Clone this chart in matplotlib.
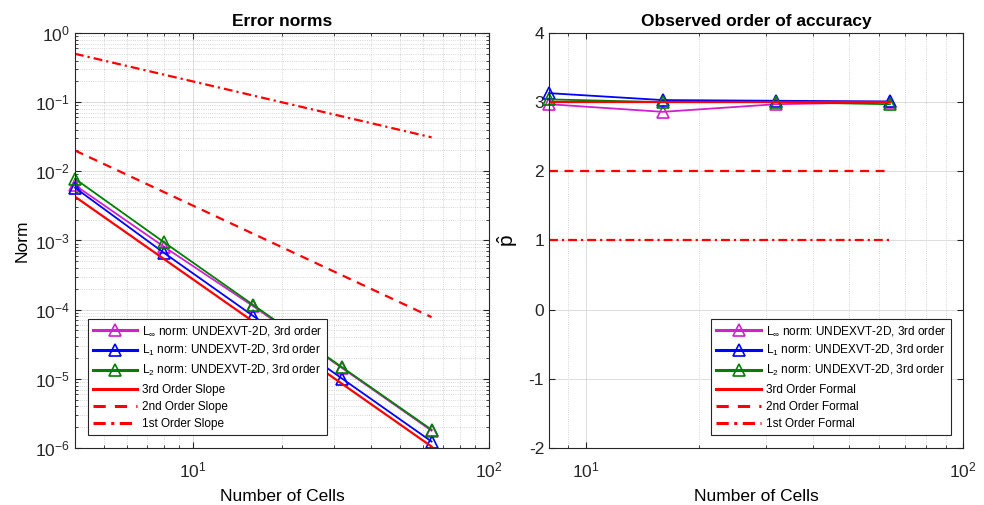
import numpy as np
import matplotlib
matplotlib.use("Agg")
import matplotlib.pyplot as plt
from matplotlib.ticker import NullFormatter, NullLocator

plt.rcParams["font.family"] = ["Liberation Sans", "DejaVu Sans"]
plt.rcParams["mathtext.fontset"] = "custom"
plt.rcParams["mathtext.rm"] = "Liberation Sans"
plt.rcParams["mathtext.it"] = "Liberation Sans:italic"
plt.rcParams["mathtext.bf"] = "Liberation Sans:bold"
plt.rcParams["mathtext.default"] = "regular"
plt.rcParams["axes.unicode_minus"] = False

# grid sizes and error norms (UNDEXVT-2D, 3rd order scheme)
cells = [4, 8, 16, 32, 64]
err_linf = [6.3e-3, 8.1e-4, 1.12e-4, 1.42e-5, 1.78e-6]
err_l1 = [5.8e-3, 6.6e-4, 8.1e-5, 1.0e-5, 1.24e-6]
err_l2 = [7.8e-3, 9.4e-4, 1.17e-4, 1.46e-5, 1.84e-6]

# reference slope lines (end points)
slope_x = [4, 64]
slope3 = [4.3e-3, 1.05e-6]
slope2 = [2.0e-2, 7.8e-5]
slope1 = [5.0e-1, 3.1e-2]

# observed order of accuracy between successive grids
order_cells = [8, 16, 32, 64]
p_linf = [2.97, 2.86, 2.97, 3.00]
p_l1 = [3.13, 3.03, 3.02, 3.01]
p_l2 = [3.04, 3.00, 3.00, 2.97]
formal_x = [8, 64]
formal3 = [3, 3]
formal2 = [2, 2]
formal1 = [1, 1]

MAG = "#d020d0"
BLU = "#0000ff"
GRN = "#008000"
RED = "#ff0000"
DASH = (0, (4, 3))
DASHDOT = (0, (4, 1.8, 1, 1.8))

norm_labels = [r"L$_{\infty}$ norm: UNDEXVT-2D, 3rd order",
               r"L$_{1}$ norm: UNDEXVT-2D, 3rd order",
               r"L$_{2}$ norm: UNDEXVT-2D, 3rd order"]

fig = plt.figure(figsize=(9.84, 5.05), dpi=100)
ax1 = fig.add_axes([0.0762, 0.1129, 0.4207, 0.8218])
ax2 = fig.add_axes([0.558, 0.1129, 0.4207, 0.8218])

mk = dict(marker="^", markersize=8, markerfacecolor="none", markeredgewidth=1.2,
          lw=1.3, clip_on=False)

# Error norms
ax1.loglog(cells, err_linf, color=MAG, markeredgecolor=MAG, label=norm_labels[0], **mk)
ax1.loglog(cells, err_l1, color=BLU, markeredgecolor=BLU, label=norm_labels[1], **mk)
ax1.loglog(cells, err_l2, color=GRN, markeredgecolor=GRN, label=norm_labels[2], **mk)
ax1.loglog(slope_x, slope3, color=RED, lw=1.6, label="3rd Order Slope")
ax1.loglog(slope_x, slope2, color=RED, lw=1.6, ls=DASH, label="2nd Order Slope")
ax1.loglog(slope_x, slope1, color=RED, lw=1.6, ls=DASHDOT, label="1st Order Slope")
ax1.set_xlim(4, 100)
ax1.set_ylim(1e-6, 1e0)
ax1.set_title("Error norms", fontsize=12.5, fontweight="bold", pad=5)
ax1.set_ylabel("Norm", fontsize=12.5)
ax1.set_xlabel("Number of Cells", fontsize=12.5, labelpad=6)

# Observed order
ax2.semilogx(order_cells, p_linf, color=MAG, markeredgecolor=MAG, label=norm_labels[0], **mk)
ax2.semilogx(order_cells, p_l1, color=BLU, markeredgecolor=BLU, label=norm_labels[1], **mk)
ax2.semilogx(order_cells, p_l2, color=GRN, markeredgecolor=GRN, label=norm_labels[2], **mk)
ax2.semilogx(formal_x, formal3, color=RED, lw=1.6, label="3rd Order Formal")
ax2.semilogx(formal_x, formal2, color=RED, lw=1.6, ls=DASH, label="2nd Order Formal")
ax2.semilogx(formal_x, formal1, color=RED, lw=1.6, ls=DASHDOT, label="1st Order Formal")
ax2.set_xlim(8, 100)
ax2.set_ylim(-2, 4)
ax2.set_yticks(range(-2, 5))
ax2.set_title("Observed order of accuracy", fontsize=12.5, fontweight="bold", pad=5)
ax2.set_ylabel(r"$\hat{p}$", fontsize=15, math_fontfamily="cm", labelpad=6)
ax2.set_xlabel("Number of Cells", fontsize=12.5, labelpad=6)

for ax in (ax1, ax2):
    ax.set_facecolor("white")
    for sp in ax.spines.values():
        sp.set_color("#262626")
        sp.set_linewidth(0.8)
    ax.tick_params(which="both", direction="in", top=True, right=True,
                   colors="#262626", labelsize=12.5, labelcolor="#262626")
    ax.tick_params(which="major", length=4)
    ax.tick_params(which="minor", length=2.5)
    ax.tick_params(axis="x", which="both", pad=9)
    ax.xaxis.set_minor_formatter(NullFormatter())
    ax.yaxis.set_minor_formatter(NullFormatter())
    ax.grid(True, which="major", color="#dcdcdc", lw=0.7, ls="-")
    ax.xaxis.grid(True, which="minor", color="#c8c8c8", lw=0.6, ls=":")
    ax.set_axisbelow(True)
ax1.yaxis.grid(True, which="minor", color="#c8c8c8", lw=0.6, ls=":")
ax2.yaxis.set_minor_locator(NullLocator())

leg_kw = dict(fontsize=8.5, handlelength=3.8, labelspacing=0.45, borderpad=0.4,
              handletextpad=0.4, borderaxespad=0, fancybox=False, framealpha=1,
              edgecolor="#262626")
leg1 = ax1.legend(loc="lower left", bbox_to_anchor=(0.031, 0.031), **leg_kw)
leg2 = ax2.legend(loc="lower right", bbox_to_anchor=(0.971, 0.031), **leg_kw)
for leg in (leg1, leg2):
    leg.get_frame().set_linewidth(0.8)
    for h in leg.get_lines():
        h.set_linewidth(2.2)

fig.savefig("out.png", dpi=100, facecolor="white")
